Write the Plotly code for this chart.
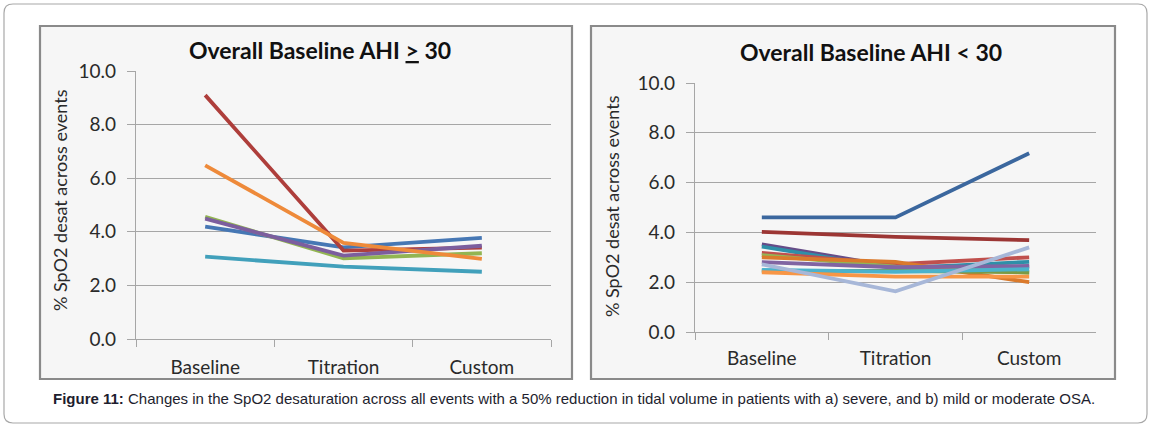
import plotly.graph_objects as go

W, H = 1152, 428

categories = ["Baseline", "Titration", "Custom"]
y_ticks = [0, 2, 4, 6, 8, 10]
y_tick_labels = ["0.0", "2.0", "4.0", "6.0", "8.0", "10.0"]

# Left panel: Overall Baseline AHI >= 30
severe_blue = [4.19, 3.42, 3.77]
severe_red = [9.10, 3.30, 3.41]
severe_green = [4.56, 3.01, 3.20]
severe_purple = [4.49, 3.11, 3.48]
severe_teal = [3.07, 2.70, 2.51]
severe_orange = [6.48, 3.59, 2.99]

# Right panel: Overall Baseline AHI < 30
mild_darkblue = [4.60, 4.60, 7.18]
mild_darkred = [4.02, 3.82, 3.69]
mild_darkpurple = [3.52, 2.62, 2.62]
mild_teal = [3.43, 2.55, 2.82]
mild_red = [3.18, 2.72, 3.00]
mild_green = [3.09, 2.62, 2.38]
mild_darkorange = [3.00, 2.82, 2.00]
mild_purple = [2.81, 2.60, 2.65]
mild_lavender = [2.72, 1.63, 3.40]
mild_darkgreen = [2.45, 2.45, 2.40]
mild_aqua = [2.49, 2.42, 2.52]
mild_orange = [2.40, 2.22, 2.22]

left_series = [
    (severe_blue, "#4677B4"),
    (severe_red, "#AE3E3B"),
    (severe_green, "#92B552"),
    (severe_purple, "#7C5E9E"),
    (severe_teal, "#41A0BB"),
    (severe_orange, "#EE8A3A"),
]
right_series = [
    (mild_darkblue, "#3B679E"),
    (mild_darkred, "#9C3634"),
    (mild_darkpurple, "#664C88"),
    (mild_teal, "#2F8FA8"),
    (mild_red, "#C0504D"),
    (mild_green, "#93B555"),
    (mild_darkorange, "#DA7A2C"),
    (mild_purple, "#8064A2"),
    (mild_darkgreen, "#7B9A45"),
    (mild_aqua, "#4BB2CC"),
    (mild_orange, "#F79646"),
    (mild_lavender, "#A7B7D8"),
]


def px(x):
    return x / W


def py(y):
    return 1 - y / H


fig = go.Figure()

for vals, col in left_series:
    fig.add_trace(go.Scatter(x=categories, y=vals, mode="lines",
                             line=dict(color=col, width=3.8),
                             xaxis="x", yaxis="y", showlegend=False))
for vals, col in right_series:
    fig.add_trace(go.Scatter(x=categories, y=vals, mode="lines",
                             line=dict(color=col, width=3.8),
                             xaxis="x2", yaxis="y2", showlegend=False))

tick_font = dict(family="Lato, Carlito, sans-serif", size=19, color="#2A2A2A")
grid_col = "#A6A6A6"

xaxis_common = dict(
    type="category", range=[-0.5, 2.5], tickson="boundaries",
    ticks="outside", ticklen=7, tickcolor=grid_col, tickwidth=1.3,
    showline=True, linecolor=grid_col, linewidth=1.3,
    showgrid=False, zeroline=False, tickfont=tick_font,
    fixedrange=True, automargin=False,
)
yaxis_common = dict(
    range=[0, 10], tickvals=y_ticks, ticktext=y_tick_labels,
    ticks="outside", ticklen=8, tickcolor=grid_col, tickwidth=1.3,
    showline=True, linecolor=grid_col, linewidth=1.3,
    showgrid=True, gridcolor=grid_col, gridwidth=1.3,
    zeroline=False, tickfont=tick_font, fixedrange=True, automargin=False,
)

fig.update_layout(
    width=W, height=H,
    margin=dict(l=0, r=0, t=0, b=0, pad=0, autoexpand=False),
    paper_bgcolor="white",
    plot_bgcolor="rgba(0,0,0,0)",
    showlegend=False,
    xaxis=dict(domain=[px(136), px(551)], anchor="y", ticklabelstandoff=11, **xaxis_common),
    yaxis=dict(domain=[py(339), py(71)], anchor="x", ticklabelstandoff=7, **yaxis_common),
    xaxis2=dict(domain=[px(695), px(1096)], anchor="y2", ticklabelstandoff=9, **xaxis_common),
    yaxis2=dict(domain=[py(332), py(83)], anchor="x2", ticklabelstandoff=7, **yaxis_common),
)

shapes = []
# outer rounded frame
x0, y0, x1, y1 = px(4), py(4), px(1147), py(423)
rx, ry = 9 / W, 9 / H
path = (f"M {x0+rx},{y0} L {x1-rx},{y0} Q {x1},{y0} {x1},{y0-ry} "
        f"L {x1},{y1+ry} Q {x1},{y1} {x1-rx},{y1} "
        f"L {x0+rx},{y1} Q {x0},{y1} {x0},{y1+ry} "
        f"L {x0},{y0-ry} Q {x0},{y0} {x0+rx},{y0} Z")
shapes.append(dict(type="path", path=path, xref="paper", yref="paper",
                   line=dict(color="#A8A8A8", width=1.2), fillcolor="white", layer="below"))
# chart boxes
for (bx0, bx1) in [(40, 572), (591, 1115)]:
    shapes.append(dict(type="rect", xref="paper", yref="paper",
                       x0=px(bx0), x1=px(bx1), y0=py(379), y1=py(26),
                       line=dict(color="#8A8A8A", width=2.2),
                       fillcolor="#F6F6F6", layer="below"))
fig.update_layout(shapes=shapes)

title_font = dict(family="Lato, Carlito, sans-serif", size=23, color="#111111")
axis_title_font = dict(family="Lato, Carlito, sans-serif", size=18, color="#2A2A2A")

annotations = [
    dict(text="<b>Overall Baseline AHI <span style='text-decoration:underline'>></span> 30</b>",
         x=px(320), y=py(50), xref="paper", yref="paper", showarrow=False,
         font=title_font, xanchor="center", yanchor="middle"),
    dict(text="<b>Overall Baseline AHI < 30</b>",
         x=px(871), y=py(52), xref="paper", yref="paper", showarrow=False,
         font=title_font, xanchor="center", yanchor="middle"),
    dict(text="% SpO2 desat across events", textangle=-90,
         x=px(60), y=py(200), xref="paper", yref="paper", showarrow=False,
         font=axis_title_font, xanchor="center", yanchor="middle"),
    dict(text="% SpO2 desat across events", textangle=-90,
         x=px(612), y=py(206), xref="paper", yref="paper", showarrow=False,
         font=axis_title_font, xanchor="center", yanchor="middle"),
    dict(text="<b>Figure 11:</b> Changes in the SpO2 desaturation across all events with a 50% "
              "reduction in tidal volume in patients with a) severe, and b) mild or moderate OSA.",
         x=px(574), y=py(398), xref="paper", yref="paper", showarrow=False,
         font=dict(family="Liberation Sans, Arial, sans-serif", size=15, color="#1E1E2E"),
         xanchor="center", yanchor="middle"),
]
fig.update_layout(annotations=annotations)

fig.write_html(
    "out.html",
    config={"displayModeBar": False},
    post_script="document.body.style.margin='0';document.body.style.overflow='hidden';",
)
